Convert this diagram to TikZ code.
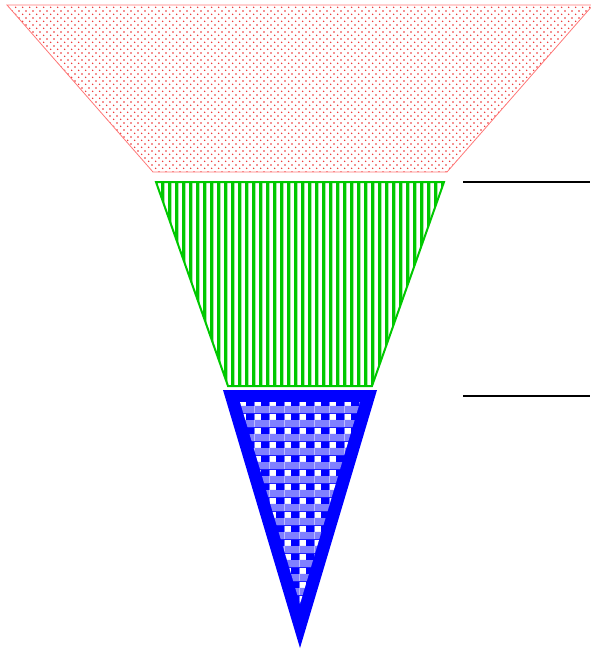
\documentclass[tikz,border=0pt]{standalone}
\usetikzlibrary{patterns}
\definecolor{lred}{RGB}{255,120,120}
\definecolor{dotred}{RGB}{235,40,40}
\definecolor{mygreen}{RGB}{0,200,0}
\pgfdeclarepatternformonly{reddots}{\pgfpointorigin}{\pgfpoint{7.3pt}{7.3pt}}{\pgfpoint{7.3pt}{7.3pt}}{%
  \pgfpathcircle{\pgfpoint{1.8pt}{1.8pt}}{0.85pt}%
  \pgfpathcircle{\pgfpoint{5.45pt}{5.45pt}}{0.85pt}%
  \pgfusepath{fill}}
\pgfdeclarepatternformonly{greenbars}{\pgfpointorigin}{\pgfpoint{7pt}{300pt}}{\pgfpoint{7pt}{300pt}}{%
  \pgfpathrectangle{\pgfpointorigin}{\pgfpoint{3.8pt}{300pt}}%
  \pgfusepath{fill}}
\pgfdeclarepatterninherentlycolored{bluecheck}{\pgfpointorigin}{\pgfpoint{15pt}{14pt}}{\pgfpoint{15pt}{14pt}}{%
  \pgfsetfillcolor{white}\pgfpathrectangle{\pgfpointorigin}{\pgfpoint{15pt}{14pt}}\pgfusepath{fill}%
  \pgfsetfillcolor{blue!50}\pgfpathrectangle{\pgfpointorigin}{\pgfpoint{15pt}{7.5pt}}\pgfusepath{fill}%
  \pgfsetfillcolor{blue}\pgfpathrectangle{\pgfpoint{6.5pt}{7.5pt}}{\pgfpoint{8.5pt}{6.5pt}}\pgfusepath{fill}}
\tikzset{
  redpart/.style={draw=lred, line width=0.8pt, pattern=reddots, pattern color=dotred},
  greenpart/.style={draw=mygreen, line width=2pt, pattern=greenbars, pattern color=mygreen},
  bluepart/.style={fill=blue},
  blueinner/.style={pattern=bluecheck},
  marker/.style={draw=black, line width=1.6pt}
}
\begin{document}
\begin{tikzpicture}[x=1pt,y=-1pt]
\useasboundingbox (0,0) rectangle (590,651);
% red top trapezoid
\path[redpart] (7,5) -- (593,5) -- (447,172) -- (153,172) -- cycle;
% green trapezoid
\path[greenpart] (156,182) -- (444,182) -- (372,386) -- (228,386) -- cycle;
% blue triangle
\path[bluepart] (223,390) -- (377,390) -- (300,648) -- cycle;
\path[blueinner] (240,402) -- (360,402) -- (300,604) -- cycle;
% side markers
\coordinate (m1a) at (463,182);
\coordinate (m1b) at (590,182);
\coordinate (m2a) at (463,396);
\coordinate (m2b) at (590,396);
\draw[marker] (m1a) -- (m1b);
\draw[marker] (m2a) -- (m2b);
\end{tikzpicture}
\end{document}
